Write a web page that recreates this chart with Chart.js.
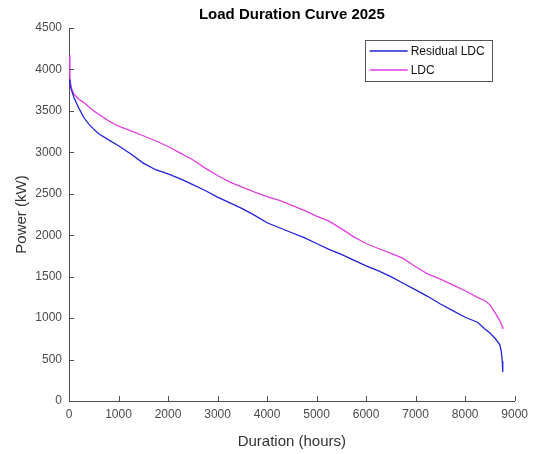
<!DOCTYPE html>
<html>
<head>
<meta charset="utf-8">
<script src="https://cdn.jsdelivr.net/npm/chart.js@4"></script>
<style>
  html, body { margin: 0; padding: 0; background: #fff; }
</style>
</head>
<body>
<canvas id="ldcChart" width="534" height="454"></canvas>
<script>
// hours of the year, sorted by load (shared by both curves)
const hours = [0, 20, 50, 100, 200, 300, 400, 500, 600, 800, 1000, 1250, 1500, 1750, 2000,
  2250, 2500, 2750, 3000, 3250, 3500, 3750, 4000, 4250, 4500, 4750, 5000, 5250, 5500,
  5750, 6000, 6250, 6500, 6750, 7000, 7250, 7500, 7750, 8000, 8250, 8400, 8500, 8600,
  8700, 8730, 8750, 8760];

const residualLdc = [3880, 3820, 3750, 3660, 3530, 3420, 3340, 3280, 3225, 3150, 3080, 2980,
  2870, 2790, 2740, 2680, 2610, 2540, 2460, 2390, 2320, 2240, 2150, 2090, 2030, 1970, 1900,
  1830, 1770, 1700, 1630, 1570, 1500, 1420, 1340, 1260, 1170, 1090, 1010, 950, 870, 820,
  760, 680, 600, 480, 350];

const ldc = [4170, 3880, 3770, 3700, 3640, 3600, 3550, 3500, 3460, 3380, 3315, 3260, 3200,
  3140, 3070, 2990, 2910, 2810, 2720, 2640, 2580, 2520, 2465, 2420, 2360, 2300, 2230, 2170,
  2080, 1980, 1900, 1840, 1780, 1720, 1620, 1530, 1470, 1400, 1330, 1250, 1210, 1160, 1070,
  970, 930, 900, 870];

const xTicks = [0, 1000, 2000, 3000, 4000, 5000, 6000, 7000, 8000, 9000];
const yTicks = [0, 500, 1000, 1500, 2000, 2500, 3000, 3500, 4000, 4500];

const FONT = "'Liberation Sans', Arial, sans-serif";
const AXIS_COLOR = '#4d4d4d';

// matlab style ticks pointing into the plot
const inwardTicks = {
  id: 'inwardTicks',
  afterDatasetsDraw(chart) {
    const { ctx, chartArea, scales } = chart;
    ctx.save();
    ctx.strokeStyle = AXIS_COLOR;
    ctx.lineWidth = 1;
    ctx.beginPath();
    scales.x.ticks.forEach(t => {
      const px = Math.round(scales.x.getPixelForValue(t.value)) + 0.5;
      ctx.moveTo(px, chartArea.bottom);
      ctx.lineTo(px, chartArea.bottom - 5);
    });
    scales.y.ticks.forEach(t => {
      const py = Math.round(scales.y.getPixelForValue(t.value)) + 0.5;
      ctx.moveTo(chartArea.left, py);
      ctx.lineTo(chartArea.left + 5, py);
    });
    ctx.stroke();
    ctx.restore();
  }
};

// title centred over the axes
const plotTitle = {
  id: 'plotTitle',
  afterDraw(chart) {
    const { ctx, chartArea } = chart;
    ctx.save();
    ctx.font = 'bold 15px ' + FONT;
    ctx.fillStyle = '#000';
    ctx.textAlign = 'center';
    ctx.textBaseline = 'middle';
    ctx.fillText('Load Duration Curve 2025', (chartArea.left + chartArea.right) / 2, 15);
    ctx.restore();
  }
};

// boxed legend inside the top right corner
const boxLegend = {
  id: 'boxLegend',
  afterDraw(chart) {
    const { ctx, chartArea } = chart;
    const w = 127, h = 41;
    const x0 = chartArea.right - 23 - w;
    const y0 = chartArea.top + 12;
    ctx.save();
    ctx.fillStyle = '#fff';
    ctx.fillRect(x0, y0, w, h);
    ctx.strokeStyle = '#555';
    ctx.lineWidth = 1;
    ctx.strokeRect(Math.round(x0) + 0.5, Math.round(y0) + 0.5, w, h);
    ctx.font = '12px ' + FONT;
    ctx.textBaseline = 'middle';
    chart.data.datasets.forEach((ds, i) => {
      const y = y0 + 11 + i * 19;
      ctx.strokeStyle = ds.borderColor;
      ctx.lineWidth = 1.3;
      ctx.beginPath();
      ctx.moveTo(x0 + 5, y);
      ctx.lineTo(x0 + 43, y);
      ctx.stroke();
      ctx.fillStyle = '#111';
      ctx.fillText(ds.label, x0 + 46, y + 0.5);
    });
    ctx.restore();
  }
};

new Chart(document.getElementById('ldcChart'), {
  type: 'line',
  data: {
    datasets: [
      {
        label: 'Residual LDC',
        data: hours.map((h, i) => ({ x: h, y: residualLdc[i] })),
        borderColor: '#2222d6',
        borderWidth: 1.3,
        pointRadius: 0,
        fill: false
      },
      {
        label: 'LDC',
        data: hours.map((h, i) => ({ x: h, y: ldc[i] })),
        borderColor: '#e23ee2',
        borderWidth: 1.3,
        pointRadius: 0,
        fill: false
      }
    ]
  },
  options: {
    responsive: false,
    animation: false,
    layout: { padding: { top: 28, right: 12, left: 0, bottom: 0 } },
    plugins: {
      legend: { display: false },
      title: { display: false },
      tooltip: { enabled: false }
    },
    scales: {
      x: {
        type: 'linear',
        min: 0,
        max: 9000,
        afterBuildTicks: s => { s.ticks = xTicks.map(v => ({ value: v })); },
        afterFit: s => { s.height = 53; },
        grid: { display: false, drawTicks: false },
        border: { display: true, color: AXIS_COLOR, width: 1 },
        ticks: {
          color: '#4a4a4a', padding: 6, maxRotation: 0,
          font: { family: FONT, size: 12 },
          callback: v => String(v)
        },
        title: {
          display: true,
          text: 'Duration (hours)',
          color: '#333',
          font: { family: FONT, size: 15 },
          padding: { top: 0, bottom: 3 }
        }
      },
      y: {
        type: 'linear',
        min: 0,
        max: 4500,
        afterBuildTicks: s => { s.ticks = yTicks.map(v => ({ value: v })); },
        afterFit: s => { s.width = 69; },
        grid: { display: false, drawTicks: false },
        border: { display: true, color: AXIS_COLOR, width: 1 },
        ticks: {
          color: '#4a4a4a', padding: 7,
          font: { family: FONT, size: 12 },
          callback: v => String(v)
        },
        title: {
          display: true,
          text: 'Power (kW)',
          color: '#333',
          font: { family: FONT, size: 15 },
          padding: { top: 13, bottom: 0 }
        }
      }
    }
  },
  plugins: [inwardTicks, boxLegend, plotTitle]
});
</script>
</body>
</html>
